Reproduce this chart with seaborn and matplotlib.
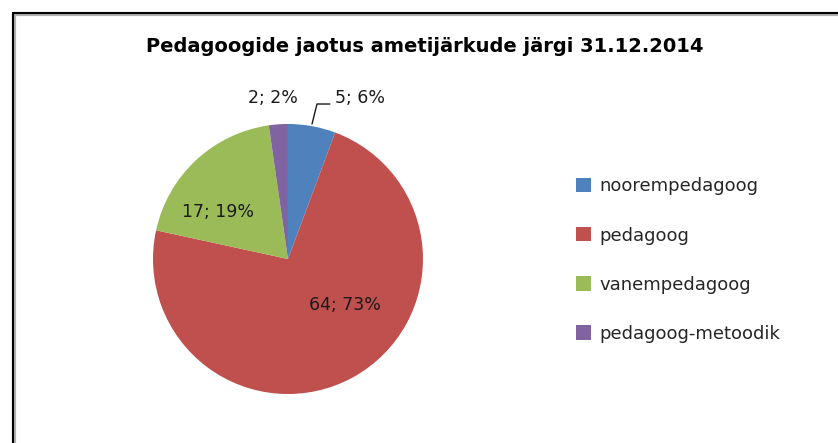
import matplotlib
matplotlib.use('Agg')
import matplotlib.pyplot as plt
import seaborn as sns
from matplotlib.lines import Line2D

sns.set_theme(style="white")
plt.rcParams['font.family'] = ['DejaVu Sans']

# data
categories = ['noorempedagoog', 'pedagoog', 'vanempedagoog', 'pedagoog-metoodik']
counts = [5, 64, 17, 2]
percents = [6, 73, 19, 2]
colors = ['#4F81BD', '#C0504D', '#9BBB59', '#8064A2']

fig = plt.figure(figsize=(8.38, 4.43), dpi=100)
ax = fig.add_axes([0.1423, 0.0344, 0.4027, 0.7619])

wedges, _ = ax.pie(counts, colors=colors, startangle=90, counterclock=False,
                   wedgeprops=dict(linewidth=0))
ax.set_xlim(-1.25, 1.25)
ax.set_ylim(-1.25, 1.25)
ax.set_aspect('auto')
ax.axis('off')

# data labels (value; percent)
label_pos = [(0.53, 1.19), (0.42, -0.34), (-0.52, 0.35), (-0.11, 1.19)]
for (x, y), c, p in zip(label_pos, counts, percents):
    ax.text(x, y, '%d; %d%%' % (c, p), ha='center', va='center',
            fontsize=12.5, color='#1a1a1a')
# leader line for the small blue slice
ax.plot([0.178, 0.215, 0.31], [1.0, 1.148, 1.148], color='#1a1a1a', lw=1,
        clip_on=False)

fig.text(0.507, 0.894, 'Pedagoogide jaotus ametijärkude järgi 31.12.2014',
         ha='center', va='center', fontsize=14, fontweight='bold', color='black')

fig.legend(wedges, categories, loc='center left', bbox_to_anchor=(0.676, 0.413),
           frameon=False, fontsize=13, handlelength=0.85, handleheight=0.85,
           handletextpad=0.45, labelspacing=1.72, borderpad=0)

# chart frame (cropped on right and bottom)
fig.add_artist(Line2D([13.5 / 838, 1], [1 - 13.5 / 443] * 2, color='#b0b0b0', lw=3,
                      transform=fig.transFigure))
fig.add_artist(Line2D([13.5 / 838] * 2, [0, 1 - 13.5 / 443], color='#b0b0b0', lw=3,
                      transform=fig.transFigure))
fig.add_artist(Line2D([12.5 / 838, 1], [1 - 12.5 / 443] * 2, color='black', lw=1.5,
                      transform=fig.transFigure))
fig.add_artist(Line2D([12.5 / 838] * 2, [0, 1 - 12.5 / 443], color='black', lw=1.5,
                      transform=fig.transFigure))

fig.savefig('out.png', dpi=100)
